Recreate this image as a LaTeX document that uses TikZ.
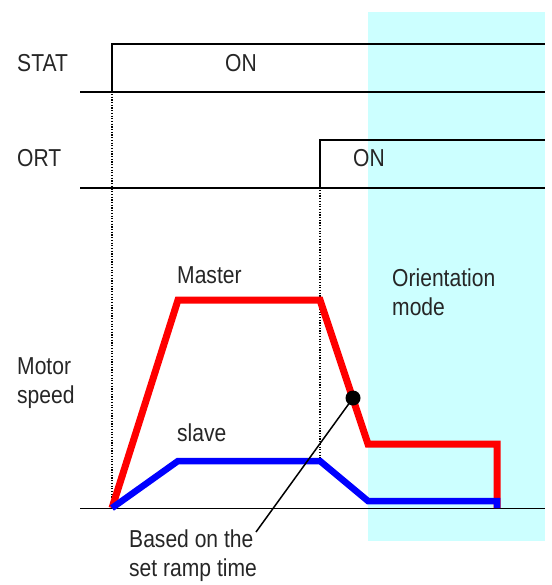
\documentclass[tikz,border=0pt]{standalone}
\usepackage{fontspec}
\setmainfont[FakeStretch=0.86]{Liberation Sans}
\definecolor{cyanbg}{HTML}{CCFFFF}
\definecolor{mred}{HTML}{FF0000}
\definecolor{mblue}{HTML}{0000FF}
\begin{document}
\begin{tikzpicture}[x=1pt,y=-1pt,
  lbl/.style={anchor=base west,inner sep=0pt,font=\fontsize{24.5}{29}\selectfont,text=black!85},
  mlbl/.style={lbl,align=left},
  sig/.style={line width=2pt,black},
  guide/.style={line width=1.5pt,dash pattern=on 1.2pt off 1.5pt,black},
  master/.style={line width=7pt,mred,line join=miter},
  slavepath/.style={line width=6.5pt,mblue,line join=miter}]
\useasboundingbox (0,0) rectangle (551,585);
% orientation region
\fill[cyanbg] (368,12) rectangle (545,541);
% labels
\node[lbl] (stat) at (17,72) {STAT};
\node[lbl] (staton) at (225,72) {ON};
\node[lbl] (ort) at (17,167) {ORT};
\node[lbl] (orton) at (353,167) {ON};
\node[lbl] (mst) at (177,283) {Master};
\node[lbl] (slv) at (177,441) {slave};
\node[mlbl] (motor) at (17,403) {Motor\\speed};
\node[mlbl] (orient) at (392,315) {Orientation\\mode};
\node[mlbl] (ramp) at (129,576) {Based on the\\set ramp time};
% signals
\draw[sig] (80,92.5) -- (545,92.5);
\draw[sig] (112,92.5) -- (112,44) -- (545,44);
\draw[sig] (80,188.5) -- (545,188.5);
\draw[sig] (320,188.5) -- (320,140.5) -- (545,140.5);
\draw[line width=1.8pt] (80,508.5) -- (545,508.5);
% guides
\draw[guide] (112,94) -- (112,508);
\draw[guide] (320,190) -- (320,461);
% speed curves
\draw[master] (112,508) -- (178,300) -- (320,300) -- (368,444) -- (497,444) -- (497,508);
\draw[slavepath] (112,508) -- (178,461) -- (320,461) -- (368,501) -- (497,501) -- (497,508);
% ramp annotation
\node[circle,fill=black,inner sep=0pt,minimum size=15pt] (dot) at (353,398) {};
\coordinate (rampend) at (256,532);
\draw[line width=1.5pt] (dot.center) -- (rampend);
\end{tikzpicture}
\end{document}
